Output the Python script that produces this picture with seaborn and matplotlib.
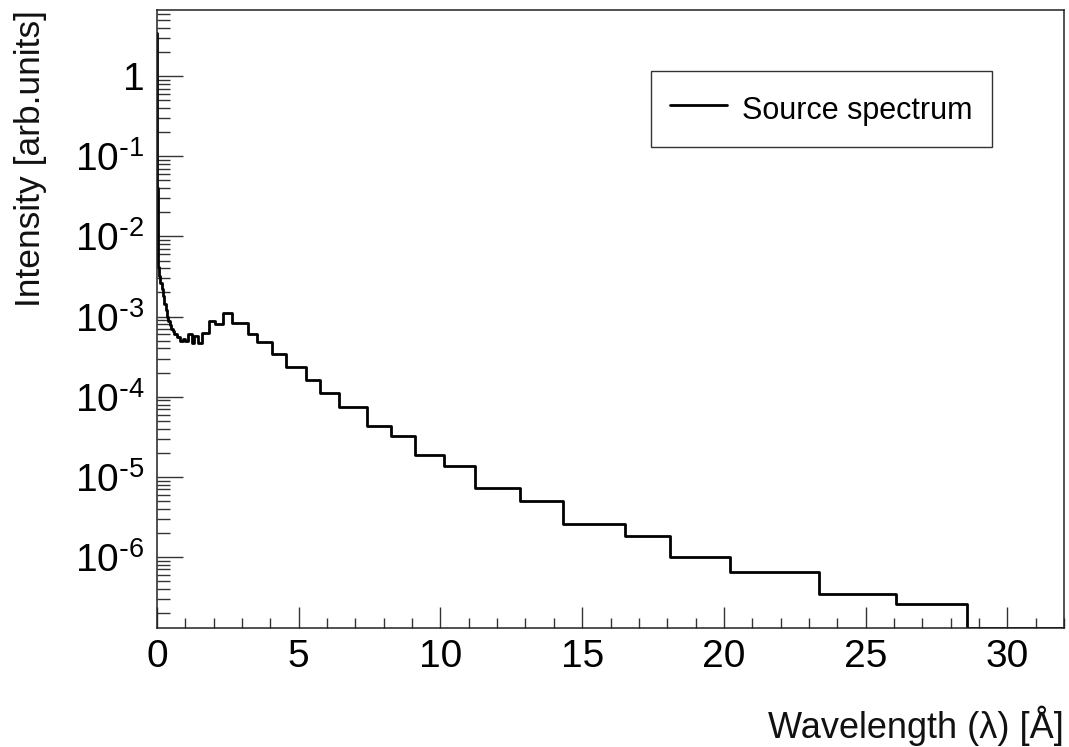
import numpy as np
import pandas as pd
import matplotlib
matplotlib.use("Agg")
import matplotlib.pyplot as plt
import seaborn as sns
from matplotlib.ticker import FixedLocator, FixedFormatter, MultipleLocator, LogLocator, NullFormatter

# ---- data ----
bin_edges = [0.0, 0.005, 0.01, 0.02, 0.03, 0.05, 0.08, 0.12, 0.16, 0.2, 0.25, 0.3,
             0.35, 0.4, 0.45, 0.5, 0.55, 0.6, 0.7, 0.8, 0.9, 1.0, 1.1, 1.22, 1.31,
             1.43, 1.57, 1.84, 2.05, 2.33, 2.64, 3.2, 3.54, 4.07, 4.54, 5.26, 5.74,
             6.41, 7.41, 8.26, 9.09, 10.12, 11.23, 12.8, 14.33, 16.5, 18.09, 20.22,
             23.34, 26.09, 28.59, 32.0]
intensity = [3.5, 0.3, 0.04, 0.012, 0.006, 0.0042, 0.0032, 0.0026, 0.0022, 0.0018,
             0.00145, 0.00122, 0.00100, 0.00088, 0.00078, 0.00071, 0.00066, 0.00061,
             0.00055, 0.00050, 0.00052, 0.00050, 0.00060, 0.00047, 0.00058, 0.00047,
             0.00063, 0.00089, 0.00082, 0.00110, 0.00083, 6.08e-4, 4.87e-4, 3.42e-4,
             2.32e-4, 1.63e-4, 1.11e-4, 7.35e-5, 4.26e-5, 3.26e-5, 1.88e-5, 1.37e-5,
             7.35e-6, 5.0e-6, 2.61e-6, 1.83e-6, 1.01e-6, 6.5e-7, 3.48e-7, 2.61e-7,
             1.3e-7]
x_ticks = [0, 5, 10, 15, 20, 25, 30]
x_tick_labels = ["0", "5", "10", "15", "20", "25", "30"]
y_ticks = [1e-6, 1e-5, 1e-4, 1e-3, 1e-2, 1e-1, 1]
y_tick_labels = [r"$10^{\text{-}6}$", r"$10^{\text{-}5}$", r"$10^{\text{-}4}$",
                 r"$10^{\text{-}3}$", r"$10^{\text{-}2}$", r"$10^{\text{-}1}$", "1"]
series_label = "Source spectrum"
x_title = "Wavelength (λ) [Å]"
y_title = "Intensity [arb.units]"

# ---- style ----
sns.set_theme(style="ticks")
plt.rcParams["font.family"] = ["Liberation Sans", "DejaVu Sans"]
plt.rcParams["mathtext.default"] = "regular"
plt.rcParams["axes.unicode_minus"] = False

centers = [(a + b) / 2 for a, b in zip(bin_edges[:-1], bin_edges[1:])]
df = pd.DataFrame({"wavelength": centers, "intensity": intensity})

fig = plt.figure(figsize=(10.69, 7.47), dpi=100)
ax = fig.add_axes([0.1469, 0.1593, 0.8484, 0.8273])

sns.histplot(data=df, x="wavelength", weights="intensity", bins=bin_edges,
             element="step", fill=False, color="black", linewidth=2.0,
             ax=ax, label=series_label)

ax.set_yscale("log")
ax.set_xlim(0, 32)
ax.set_ylim(1.3e-7, 6.7)

ax.xaxis.set_major_locator(FixedLocator(x_ticks))
ax.xaxis.set_major_formatter(FixedFormatter(x_tick_labels))
ax.xaxis.set_minor_locator(MultipleLocator(1))
ax.yaxis.set_major_locator(FixedLocator(y_ticks))
ax.yaxis.set_major_formatter(FixedFormatter(y_tick_labels))
ax.yaxis.set_minor_locator(LogLocator(base=10, subs=np.arange(2, 10)))
ax.yaxis.set_minor_formatter(NullFormatter())

for sp in ax.spines.values():
    sp.set_visible(True)
    sp.set_color("#222222")
    sp.set_linewidth(1.1)

ax.tick_params(axis="both", which="both", direction="in", color="#333333",
               width=1.0, top=False, right=False, labelcolor="black")
ax.tick_params(axis="x", which="major", length=15, labelsize=28, pad=8)
ax.tick_params(axis="x", which="minor", length=7.5)
ax.tick_params(axis="y", which="major", length=19, labelsize=28, pad=9)
ax.tick_params(axis="y", which="minor", length=9.5)

ax.set_xlabel(x_title, fontsize=26, loc="right", color="#111111")
ax.set_ylabel(y_title, fontsize=25.5, loc="top", color="#111111")
ax.xaxis.set_label_coords(1.0, -0.125)
ax.yaxis.set_label_coords(-0.121, 1.0)

leg = ax.legend(loc="upper left", bbox_to_anchor=(0.5447, 0.9013),
                borderaxespad=0, fontsize=22, frameon=True, fancybox=False,
                edgecolor="#333333", handlelength=1.87, handletextpad=0.5,
                borderpad=0.62, handleheight=1.55, labelcolor="black")
leg.get_frame().set_linewidth(1.0)
leg.get_frame().set_alpha(1)

fig.savefig("out.png", dpi=100)
